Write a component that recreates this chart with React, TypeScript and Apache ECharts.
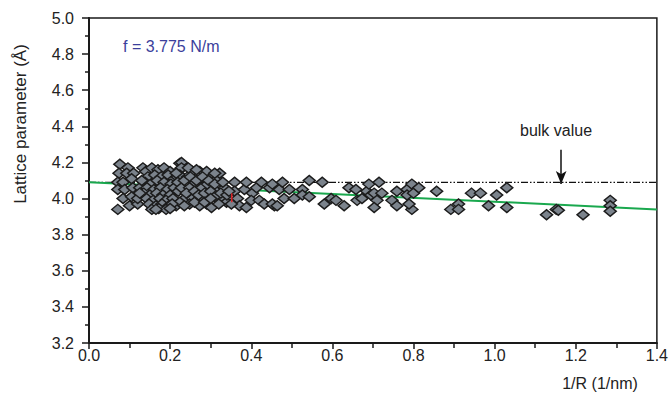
import React, { useEffect, useRef } from "react";
import * as echarts from "echarts";

// 1/R (1/nm) and lattice parameter (Å) for the measured clusters
const clusterR: number[] = [
  0.076, 0.096, 0.074, 0.093, 0.11, 0.071, 0.084, 0.105, 0.071, 0.088, 0.108, 0.084, 0.105, 0.1, 0.071, 0.12, 0.12, 0.125, 0.133,
  0.14, 0.155, 0.17, 0.185, 0.2, 0.145, 0.162, 0.178, 0.195, 0.21, 0.138, 0.152, 0.168, 0.185, 0.202, 0.143, 0.16, 0.176, 0.193, 0.21,
  0.135, 0.15, 0.167, 0.182, 0.2, 0.142, 0.158, 0.175, 0.19, 0.207, 0.148, 0.165, 0.18, 0.197, 0.155, 0.172, 0.19, 0.215, 0.224, 0.224, 0.218, 0.22,
  0.228, 0.228, 0.224, 0.219, 0.228, 0.243, 0.255, 0.273, 0.29, 0.268, 0.26, 0.248, 0.278, 0.292, 0.302, 0.317, 0.322,
  0.236, 0.255, 0.28, 0.29, 0.302, 0.273, 0.248, 0.224, 0.314, 0.327, 0.334, 0.339, 0.359, 0.359, 0.366, 0.371, 0.383, 0.388,
  0.403, 0.4, 0.413, 0.425, 0.42, 0.432, 0.445, 0.457, 0.388, 0.351,
  0.452, 0.452, 0.469, 0.477, 0.481, 0.464, 0.494, 0.506, 0.526, 0.526, 0.543, 0.543, 0.575, 0.58, 0.597, 0.609, 0.629, 0.641, 0.658, 0.661, 0.673, 0.685,
  0.69, 0.695, 0.703, 0.715, 0.722, 0.71, 0.703, 0.747, 0.759, 0.759, 0.784, 0.784, 0.796, 0.8, 0.813, 0.796, 0.789, 0.857, 0.892, 0.911, 0.911,
  0.943, 0.965, 1.005, 1.03, 0.985, 1.03, 1.128, 1.152, 1.157, 1.218, 1.285, 1.285, 1.285,
  0.235, 0.25, 0.265, 0.28, 0.295, 0.31, 0.24, 0.26, 0.27, 0.285, 0.3, 0.31, 0.325, 0.34, 0.235, 0.26, 0.285, 0.3, 0.32, 0.345,
  0.33, 0.31, 0.245, 0.265, 0.13, 0.125, 0.215, 0.205, 0.165, 0.2,
];
const clusterA: number[] = [
  4.19, 4.17, 4.14, 4.14, 4.14, 4.09, 4.09, 4.11, 4.05, 4.05, 4.06, 4.0, 4.01, 3.96, 3.94, 3.97, 4.0, 4.06, 4.17,
  4.15, 4.17, 4.16, 4.17, 4.15, 4.12, 4.13, 4.12, 4.13, 4.11, 4.09, 4.08, 4.1, 4.09, 4.08, 4.06, 4.05, 4.06, 4.05, 4.06,
  4.03, 4.02, 4.03, 4.02, 4.02, 4.0, 3.99, 4.0, 3.99, 4.0, 3.97, 3.96, 3.97, 3.96, 3.94, 3.945, 3.94, 3.96, 4.195, 4.16, 4.12, 4.04,
  4.2, 4.17, 4.13, 4.09, 4.06, 4.12, 4.15, 4.15, 4.15, 4.12, 4.09, 4.06, 4.06, 4.08, 4.12, 4.11, 4.14,
  4.0, 4.0, 4.0, 3.97, 3.95, 3.96, 3.97, 3.98, 4.04, 4.01, 4.06, 3.98, 4.09, 4.04, 4.0, 3.96, 4.05, 4.09,
  4.03, 3.99, 4.06, 4.09, 3.99, 3.97, 4.06, 3.96, 3.95, 3.97,
  4.08, 3.97, 4.05, 4.09, 4.0, 3.96, 4.05, 4.0, 4.05, 4.02, 4.1, 4.01, 4.09, 3.97, 4.0, 3.99, 3.96, 4.06, 4.05, 3.99, 4.0, 4.04,
  4.08, 4.02, 4.03, 4.09, 4.03, 3.99, 3.95, 3.99, 4.04, 3.96, 4.05, 4.02, 4.08, 4.03, 4.06, 3.94, 3.97, 4.04, 3.94, 3.97, 3.94,
  4.03, 4.03, 4.02, 4.06, 3.96, 3.95, 3.91, 3.94, 3.935, 3.91, 3.99, 3.96, 3.93,
  4.1, 4.12, 4.1, 4.12, 4.1, 4.08, 4.03, 4.04, 4.02, 4.03, 4.04, 4.01, 4.03, 4.02, 3.96, 3.98, 3.98, 4.0, 3.97, 4.04,
  4.09, 4.14, 4.17, 4.16, 4.1, 4.03, 4.14, 3.97, 3.94, 3.945,
];

const bulkR: number[] = [0, 1.4];
const bulkA: number[] = [4.09, 4.09];
const fitR: number[] = [0, 1.4];
const fitA: number[] = [4.09, 3.94];
const redMarkR: number[] = [0.352, 0.352];
const redMarkA: number[] = [4.03, 3.98];
const arrowR: number[] = [1.164, 1.164];
const arrowA: number[] = [4.27, 4.08];

const xTicks = { min: 0, max: 1.4, interval: 0.2 };
const yTicks = { min: 3.2, max: 5.0, interval: 0.2 };

const FONT = "'Liberation Sans', Arial, Helvetica, sans-serif";

export default function App() {
  const ref = useRef<HTMLDivElement>(null);
  useEffect(() => {
    if (!ref.current) return;
    const chart = echarts.init(ref.current, undefined, { renderer: "svg" });
    const pts = clusterR.map((r, i) => [r, clusterA[i]]);
    const axisLine = { show: true, lineStyle: { color: "#1a1a1a", width: 2 } };
    chart.setOption({
      animation: false,
      backgroundColor: "#ffffff",
      textStyle: { fontFamily: FONT },
      grid: {
        left: 89,
        right: 12,
        top: 18,
        bottom: 58,
        show: true,
        borderColor: "#1a1a1a",
        borderWidth: 1.5,
        backgroundColor: "transparent",
      },
      xAxis: {
        type: "value",
        min: xTicks.min,
        max: xTicks.max,
        interval: xTicks.interval,
        axisLine: { ...axisLine, onZero: false },
        axisTick: { show: true, inside: false, length: 6, lineStyle: { color: "#1a1a1a", width: 1.5 } },
        minorTick: { show: true, splitNumber: 2, length: 5, lineStyle: { color: "#1a1a1a", width: 1.5 } },
        splitLine: { show: false },
        axisLabel: {
          color: "#222",
          fontSize: 16,
          fontFamily: FONT,
          margin: 4,
          formatter: (v: number) => v.toFixed(1),
        },
      },
      yAxis: {
        type: "value",
        min: yTicks.min,
        max: yTicks.max,
        interval: yTicks.interval,
        axisLine: { ...axisLine, onZero: false },
        axisTick: { show: true, inside: false, length: 7, lineStyle: { color: "#1a1a1a", width: 1.5 } },
        minorTick: { show: true, splitNumber: 2, length: 4, lineStyle: { color: "#1a1a1a", width: 1.5 } },
        splitLine: { show: false },
        axisLabel: {
          color: "#222",
          fontSize: 16,
          fontFamily: FONT,
          margin: 15,
          formatter: (v: number) => v.toFixed(1),
        },
      },
      series: [
        {
          type: "line",
          data: bulkR.map((r, i) => [r, bulkA[i]]),
          symbol: "none",
          silent: true,
          z: 2,
          lineStyle: { color: "#111", width: 1.3, type: [7, 2, 1.5, 2, 1.5, 2] },
        },
        {
          type: "line",
          data: fitR.map((r, i) => [r, fitA[i]]),
          symbol: "none",
          silent: true,
          z: 3,
          lineStyle: { color: "#1aa84e", width: 2 },
          markLine: {
            silent: true,
            symbol: ["none", "arrow"],
            symbolSize: [8, 13],
            label: { show: false },
            lineStyle: { color: "#111", width: 1.5, type: "solid" },
            data: [
              [
                { coord: [arrowR[0], arrowA[0]] },
                { coord: [arrowR[1], arrowA[1]] },
              ],
            ],
          },
        },
        {
          type: "scatter",
          data: pts,
          symbol: "diamond",
          symbolSize: [12, 10],
          z: 4,
          itemStyle: { color: "#7b838c", borderColor: "#1c1c1c", borderWidth: 1.5, opacity: 1 },
        },
        {
          type: "line",
          data: redMarkR.map((r, i) => [r, redMarkA[i]]),
          symbol: "none",
          silent: true,
          z: 5,
          lineStyle: { color: "#e0262a", width: 1.5 },
        },
      ],
      graphic: [
        {
          type: "text",
          left: 123,
          top: 38,
          style: { text: "f = 3.775 N/m", fill: "#3b3f9c", font: `16px ${FONT}` },
        },
        {
          type: "text",
          x: 556,
          y: 130,
          style: { text: "bulk value", fill: "#222", font: `16px ${FONT}`, align: "center", verticalAlign: "middle" },
        },
        {
          type: "text",
          x: 600,
          y: 383,
          style: { text: "1/R (1/nm)", fill: "#222", font: `16px ${FONT}`, align: "center", verticalAlign: "middle" },
        },
        {
          type: "text",
          x: 20,
          y: 124,
          rotation: Math.PI / 2,
          style: {
            text: "Lattice parameter (Å)",
            fill: "#222",
            font: `17px ${FONT}`,
            align: "center",
            verticalAlign: "middle",
          },
        },
      ],
    });
    return () => chart.dispose();
  }, []);
  return <div ref={ref} style={{ width: 671, height: 401, position: "absolute", left: 0, top: 0 }} />;
}
